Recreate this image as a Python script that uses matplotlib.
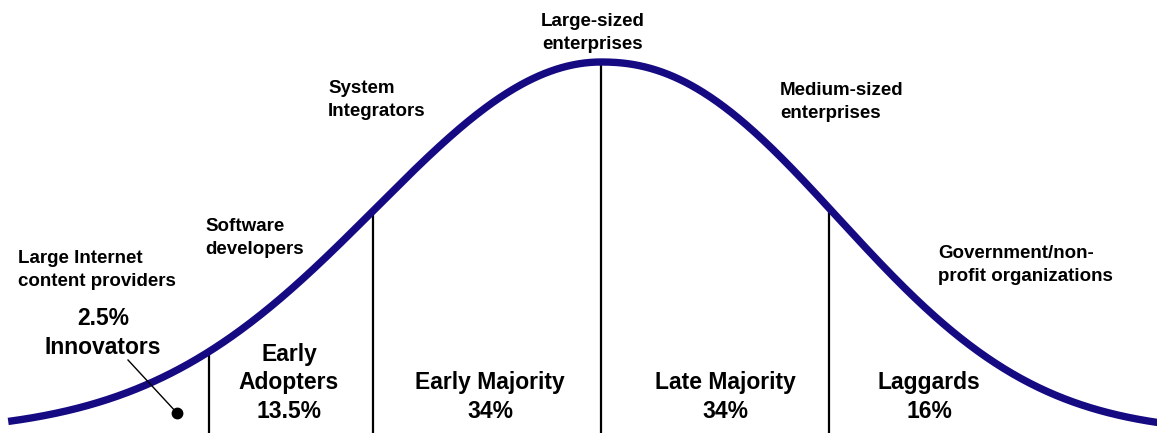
import numpy as np
import matplotlib.pyplot as plt

# bell curve shape, x in units of one standard deviation
peak_x = 0.0
left_width, left_power = 1.396, 2.0    # left flank (plain gaussian)
right_width, right_power = 1.37, 2.2   # right flank falls a bit faster
x_start, x_end = -2.6, 2.45

# segment boundaries (sigma units) as drawn in the picture
boundaries = [-1.72, -1.0, 0.0, 1.0]

# category labels under the curve
categories = ['2.5%\nInnovators', 'Early\nAdopters\n13.5%', 'Early Majority\n34%',
              'Late Majority\n34%', 'Laggards\n16%']

# adopter types written along the curve
adopters = ['Large Internet\ncontent providers', 'Software\ndevelopers', 'System\nIntegrators',
            'Large-sized\nenterprises', 'Medium-sized\nenterprises',
            'Government/non-\nprofit organizations']


def bell(x):
    d = np.asarray(x, dtype=float) - peak_x
    w = np.where(d < 0, left_width, right_width)
    p = np.where(d < 0, left_power, right_power)
    return np.exp(-(np.abs(d) / w) ** p)


plt.rcParams['font.family'] = ['Liberation Sans', 'DejaVu Sans']

W, H = 1157, 433
fig = plt.figure(figsize=(W / 100, H / 100), dpi=100)
ax = fig.add_axes([0, 0, 1, 1])

xs = np.linspace(x_start, x_end, 800)
ax.plot(xs, bell(xs), color='#150a82', lw=5.3, solid_capstyle='butt', zorder=3)

for b in boundaries:
    ax.plot([b, b], [0, bell(b)], color='black', lw=1.6, zorder=2)

# label positions in pixels of the 1157x433 canvas
cat_xy = [(103, 333), (289, 383), (490, 397), (725, 397), (929, 397)]
for txt, (px, py) in zip(categories, cat_xy):
    ax.text(px / W, 1 - py / H, txt, transform=ax.transAxes, ha='center', va='center',
            fontsize=16.5, fontweight='bold', linespacing=1.33)

ad_xy = [(18, 270), (205, 238), (328, 100), (593, 33), (780, 102), (938, 265)]
ad_ha = ['left', 'left', 'left', 'center', 'left', 'left']
for txt, (px, py), ha in zip(adopters, ad_xy, ad_ha):
    ax.text(px / W, 1 - py / H, txt, transform=ax.transAxes, ha=ha, va='center',
            fontsize=13.5, fontweight='bold', linespacing=1.45)

# pointer from "Innovators" to its dot
ax.plot([128 / W, 177 / W], [1 - 360 / H, 1 - 413 / H], color='black', lw=1.0,
        transform=ax.transAxes, zorder=4)
ax.plot([177 / W], [1 - 413 / H], 'o', color='black', ms=7.5,
        transform=ax.transAxes, zorder=4)

ax.set_xlim((0 - 601) / 228, (W - 601) / 228)
ax.set_ylim(0, 433 / 371)
ax.axis('off')

fig.savefig('out.png', dpi=100, facecolor='white')
